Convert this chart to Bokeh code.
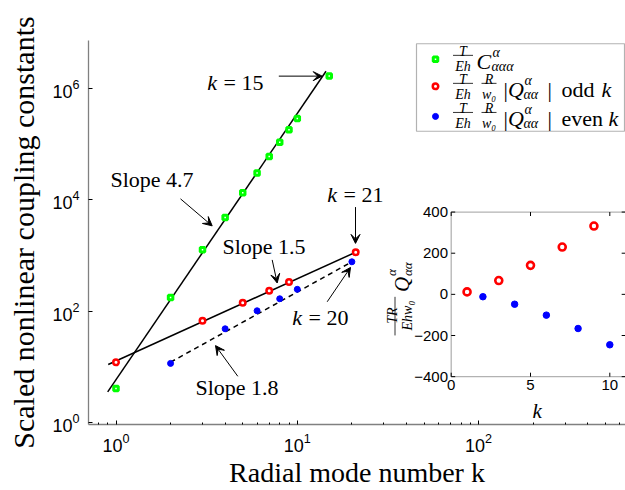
import math
from bokeh.plotting import figure
from bokeh.models import Range1d, LinearScale, FixedTicker, Label, Arrow, VeeHead, BoxAnnotation
from bokeh.embed import file_html
from bokeh.resources import INLINE

# ---------------- data ----------------
k_cubic = [1, 2, 3, 4, 5, 6, 7, 8, 9, 10, 15]
C_cubic = [4.07, 175, 1250, 4750, 13200, 29900, 59300, 106000, 179000, 284000, 1.65e6]
k_odd = [1, 3, 5, 7, 9, 21]
Q_odd = [12, 67, 141, 230, 332, 1135]
k_even = [2, 4, 6, 8, 10, 20]
Q_even = [-11.5, -48, -101, -166, -245, -764]      # signed values (even k are negative)
fit_C_k = [0.9, 14.4]
fit_C = [3.55, 2.0e6]
fit_odd_k = [0.906, 21]
fit_odd = [11.0, 1135]
fit_even_k = [2, 20]
fit_even = [12.1, 764]
x_major = [1, 10, 100]
y_major = [1, 1e2, 1e4, 1e6]
inset_xticks = [0, 5, 10]
inset_yticks = [-400, -200, 0, 200, 400]
inset_xlim = [0, 11]
inset_ylim = [-400, 400]

GREEN, RED, BLUE = "#00ff00", "#ff0000", "#0000ff"
SERIF, SANS = "Liberation Serif", "Liberation Sans"

# ---------------- layout (page pixels) ----------------
W, H = 625, 490
FL, FR, FT, FB = 88, 625, 40, 428
X1, XD = 115.5, 181.3      # pixel of k=1, pixels per decade
Y1, YD = 426.0, 56.33
IX0, IXU = 450.7, 15.86    # inset: pixel of k=0, pixels per unit
IY0, IYU = 296.5, 0.2079


def dx(px):
    return 10 ** ((px - X1) / XD)


def dy(py):
    return 10 ** ((Y1 - py) / YD)


def ix(px):
    return (px - IX0) / IXU


def iy(py):
    return (IY0 - py) / IYU


p = figure(width=W, height=H, x_axis_type="log", y_axis_type="log",
           x_range=Range1d(dx(FL), dx(FR)), y_range=Range1d(dy(FB), dy(FT)),
           output_backend="svg", toolbar_location=None,
           min_border_left=FL, min_border_right=W - FR,
           min_border_top=FT, min_border_bottom=H - FB)
p.extra_x_ranges = {"ix": Range1d(ix(FL), ix(FR))}
p.extra_y_ranges = {"iy": Range1d(iy(FB), iy(FT))}
p.extra_x_scales = {"ix": LinearScale()}
p.extra_y_scales = {"iy": LinearScale()}

p.outline_line_color = None
p.grid.visible = False
p.background_fill_color = "white"
p.border_fill_color = "white"

minor = [m * 10 ** e for e in range(-1, 3) for m in range(2, 10)]
p.xaxis.ticker = FixedTicker(ticks=x_major, minor_ticks=minor)
p.yaxis.ticker = FixedTicker(ticks=y_major)
for ax in (p.xaxis[0], p.yaxis[0]):
    ax.axis_line_color = "#808080"
    ax.axis_line_width = 1.3
    ax.major_tick_in = 4
    ax.major_tick_out = 0
    ax.minor_tick_in = 2
    ax.minor_tick_out = 0
    ax.major_tick_line_color = "black"
    ax.minor_tick_line_color = "black"
    ax.major_label_text_font = SANS
    ax.major_label_text_font_size = "18px"
    ax.major_label_text_color = "black"
    ax.axis_label_text_font = SERIF
    ax.axis_label_text_font_style = "normal"
    ax.axis_label_text_color = "black"
p.xaxis.axis_label_text_font_size = "28px"
p.yaxis.axis_label_text_font_size = "30px"
p.xaxis.major_label_standoff = 8
p.yaxis.major_label_standoff = 9
p.xaxis.axis_label = "Radial mode number k"
p.yaxis.axis_label = "Scaled nonlinear coupling constants"
p.xaxis.axis_label_standoff = 2
p.yaxis.axis_label_standoff = 9


def lab(text, px, py, size, italic=False, align="left", base="alphabetic", font=SERIF, angle=0.0):
    p.add_layout(Label(x=dx(px), y=dy(py), text=text, text_font=font,
                       text_font_size=f"{size}px",
                       text_font_style="italic" if italic else "normal",
                       text_align=align, text_baseline=base, angle=angle,
                       text_color="black"))


def ilab(text, x, y, size, italic=False, align="center", base="middle", font=SANS):
    p.add_layout(Label(x=x, y=y, text=text, text_font=font, text_font_size=f"{size}px",
                       text_font_style="italic" if italic else "normal",
                       text_align=align, text_baseline=base, text_color="black",
                       x_range_name="ix", y_range_name="iy"))


# ---------------- main plot ----------------
p.line(fit_C_k, fit_C, line_color="black", line_width=1.5)
p.line(fit_odd_k, fit_odd, line_color="black", line_width=1.5)
p.line(fit_even_k, fit_even, line_color="black", line_width=1.5, line_dash="5 4")
p.scatter(k_cubic, C_cubic, marker="square", size=4.5, line_width=3,
          line_color=GREEN, fill_color="white")
p.scatter(k_odd, Q_odd, marker="circle", size=5.5, line_width=2.5,
          line_color=RED, fill_color="white")
p.scatter(k_even, [abs(v) for v in Q_even], marker="circle", size=6,
          line_color=BLUE, fill_color=BLUE)

# annotations
ANN = 22
lab("k", 206.7, 82.5, ANN, italic=True)
lab("= 15", 223, 82.5, ANN)
lab("Slope 4.7", 110, 180, ANN)
lab("Slope 1.5", 222, 248.5, ANN)
lab("k", 326.7, 196, ANN, italic=True)
lab("= 21", 343, 196, ANN)
lab("k", 291.7, 319.5, ANN, italic=True)
lab("= 20", 308, 319.5, ANN)
lab("Slope 1.8", 195, 391, ANN)

arrows = [((278.3, 76), (321.7, 76)),
          ((180, 200), (211.7, 227.3)),
          ((271.7, 261.7), (276.7, 285)),
          ((355, 208.3), (355, 245)),
          ((326.7, 304), (350, 269.3)),
          ((237.3, 379.3), (215, 348.3))]
for (x0, y0), (x1, y1) in arrows:
    p.add_layout(Arrow(x_start=dx(x0), y_start=dy(y0), x_end=dx(x1), y_end=dy(y1),
                       line_color="black", line_width=1,
                       end=VeeHead(size=9, line_color="black", line_width=1,
                                   fill_color="black")))

# ---------------- legend (drawn by hand for stacked fractions) ----------------
p.add_layout(BoxAnnotation(left=dx(416), right=dx(624), top=dy(43.3), bottom=dy(131.7),
                           fill_color="white", fill_alpha=1, line_color="black",
                           line_width=1.2, level="underlay"))
rows = [55.0, 83.3, 112.7]
p.scatter([dx(435)], [dy(rows[0] + 4)], marker="square", size=4.5, line_width=3,
          line_color=GREEN, fill_color="white")
p.scatter([dx(435)], [dy(rows[1] + 3)], marker="circle", size=5.5, line_width=2.5,
          line_color=RED, fill_color="white")
p.scatter([dx(435)], [dy(rows[2] + 4)], marker="circle", size=6,
          line_color=BLUE, fill_color=BLUE)
for i, yb in enumerate(rows):
    lab("T", 462.5, yb - 3.5, 14, italic=True, align="center")
    p.segment(x0=[dx(452.5)], y0=[dy(yb)], x1=[dx(472.5)], y1=[dy(yb)],
              line_color="black", line_width=0.8)
    lab("Eh", 462.5, yb + 11, 14, italic=True, align="center")
    if i == 0:
        lab("C", 476, yb + 6, 22, italic=True)
        lab("α", 492, yb - 3, 14, italic=True)
        lab("ααα", 491, yb + 11, 14, italic=True)
    else:
        lab("R", 488.5, yb - 3.5, 14, italic=True, align="center")
        p.segment(x0=[dx(481)], y0=[dy(yb)], x1=[dx(496)], y1=[dy(yb)],
                  line_color="black", line_width=0.8)
        lab("w₀", 488.5, yb + 11, 14, italic=True, align="center")
        lab("|", 503, yb + 6, 22)
        lab("Q", 507.5, yb + 6, 22, italic=True)
        lab("α", 524, yb - 3, 14, italic=True)
        lab("αα", 523, yb + 11, 14, italic=True)
        lab("|", 547, yb + 6, 22)
        if i == 1:
            lab("odd", 561, yb + 6, 22)
            lab("k", 601, yb + 6, 22, italic=True)
        else:
            lab("even", 561, yb + 6, 22)
            lab("k", 608, yb + 6, 22, italic=True)

# ---------------- inset ----------------
p.add_layout(BoxAnnotation(left=inset_xlim[0], right=inset_xlim[1],
                           bottom=inset_ylim[0], top=inset_ylim[1],
                           x_range_name="ix", y_range_name="iy",
                           fill_color="white", fill_alpha=1, line_color="black",
                           line_width=1.3, level="underlay"))
tx = 4 / IXU
ty = 4 / IYU
xt0, xt1, yt0, yt1 = [], [], [], []
for t in inset_xticks:
    xt0 += [t, t]; xt1 += [t, t]
    yt0 += [inset_ylim[0], inset_ylim[1]]; yt1 += [inset_ylim[0] + ty, inset_ylim[1] - ty]
for t in inset_yticks:
    xt0 += [inset_xlim[0], inset_xlim[1]]; xt1 += [inset_xlim[0] + tx, inset_xlim[1] - tx]
    yt0 += [t, t]; yt1 += [t, t]
p.segment(x0=xt0, y0=yt0, x1=xt1, y1=yt1, line_color="black", line_width=1,
          x_range_name="ix", y_range_name="iy")

ins_odd_k = [k for k in k_odd if k <= inset_xlim[1]]
ins_odd_q = [q for k, q in zip(k_odd, Q_odd) if k <= inset_xlim[1]]
ins_even_k = [k for k in k_even if k <= inset_xlim[1]]
ins_even_q = [q for k, q in zip(k_even, Q_even) if k <= inset_xlim[1]]
p.scatter(ins_odd_k, ins_odd_q, marker="circle", size=7, line_width=2.6,
          line_color=RED, fill_color="white", x_range_name="ix", y_range_name="iy")
p.scatter(ins_even_k, ins_even_q, marker="circle", size=6.5,
          line_color=BLUE, fill_color=BLUE, x_range_name="ix", y_range_name="iy")

for t in inset_xticks:
    ilab(str(t), t, iy(383), 15, base="top")
for t in inset_yticks:
    ilab(str(t).replace("-", "\u2212"), ix(447.5), t, 15, align="right")
ilab("k", ix(536.7), iy(414), 21, italic=True, base="alphabetic", font=SERIF)

# rotated inset y label:  TR/(Ehw0) Q^a_aa
R90 = math.pi / 2
lab("TR", 392, 318, 14, italic=True, align="center", angle=R90)
p.segment(x0=[dx(394.5)], y0=[dy(299)], x1=[dx(394.5)], y1=[dy(338)],
          line_color="black", line_width=0.8)
lab("Ehw₀", 406.5, 318, 14, italic=True, align="center", angle=R90)
lab("Q", 401, 294, 21, italic=True, angle=R90)
lab("α", 390.5, 278, 13, italic=True, angle=R90)
lab("αα", 406.5, 278, 13, italic=True, angle=R90)

open("out.html", "w").write(file_html(p, INLINE))
